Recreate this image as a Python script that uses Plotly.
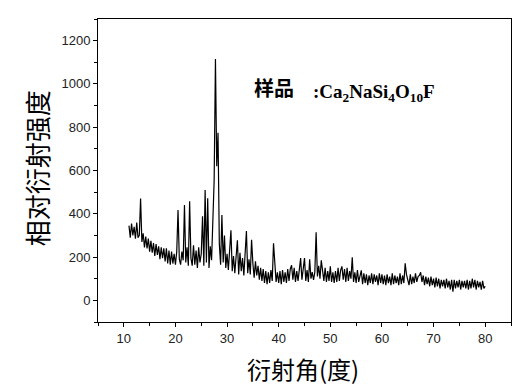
import numpy as np
import plotly.graph_objects as go

# 2-theta sampling grid (degrees), 0.25 deg step from 11 to 80
two_theta = np.arange(11.0, 80.0001, 0.25)

# Intensity, 4 samples per degree
intensity = [
    345, 290, 355, 300,   # 11
    340, 285, 360, 290,   # 12
    300, 470, 270, 310,   # 13
    245, 295, 240, 285,   # 14
    225, 275, 220, 265,   # 15
    205, 260, 210, 250,   # 16
    190, 245, 195, 240,   # 17
    180, 240, 170, 230,   # 18
    165, 225, 170, 215,   # 19
    165, 225, 417, 190,   # 20
    165, 225, 185, 440,   # 21
    175, 245, 160, 458,   # 22
    195, 160, 255, 165,   # 23
    230, 150, 245, 175,   # 24
    215, 389, 160, 510,   # 25
    175, 472, 150, 250,   # 26
    185, 403, 556, 1115,  # 27
    620, 774, 260, 165,   # 28
    394, 175, 300, 150,   # 29
    215, 140, 225, 324,   # 30
    135, 205, 125, 190,   # 31
    278, 120, 220, 135,   # 32
    195, 115, 205, 320,   # 33
    125, 190, 120, 280,   # 34
    170, 105, 180, 115,   # 35
    160, 95, 150, 90,     # 36
    145, 80, 135, 75,     # 37
    130, 80, 140, 90,     # 38
    264, 140, 85, 130,    # 39
    80, 135, 75, 140,     # 40
    85, 130, 80, 145,     # 41
    90, 145, 162, 95,     # 42
    150, 85, 135, 90,     # 43
    145, 195, 95, 140,    # 44
    195, 90, 140, 85,     # 45
    190, 100, 130, 95,    # 46
    130, 315, 110, 160,   # 47
    100, 185, 140, 90,    # 48
    150, 85, 135, 90,     # 49
    157, 85, 130, 80,     # 50
    135, 85, 150, 90,     # 51
    140, 157, 95, 145,    # 52
    85, 150, 90, 135,     # 53
    100, 199, 85, 130,    # 54
    80, 140, 85, 110,     # 55
    139, 75, 125, 80,     # 56
    120, 70, 115, 80,     # 57
    125, 75, 120, 85,     # 58
    115, 70, 125, 80,     # 59
    120, 75, 115, 70,     # 60
    120, 80, 110, 70,     # 61
    125, 75, 115, 80,     # 62
    110, 70, 125, 75,     # 63
    115, 80, 171, 120,    # 64
    85, 70, 120, 75,      # 65
    110, 80, 125, 85,     # 66
    110, 115, 130, 85,    # 67
    115, 70, 110, 75,     # 68
    105, 65, 110, 70,     # 69
    100, 60, 105, 65,     # 70
    100, 55, 95, 65,      # 71
    95, 55, 100, 60,      # 72
    90, 50, 95, 40,       # 73
    95, 55, 90, 60,       # 74
    95, 50, 90, 60,       # 75
    90, 55, 95, 50,       # 76
    90, 55, 100, 60,      # 77
    95, 50, 90, 60,       # 78
    85, 50, 90, 55,       # 79
    65,                   # 80
]

x_ticks = [10, 20, 30, 40, 50, 60, 70, 80]
y_ticks = [0, 200, 400, 600, 800, 1000, 1200]

x_title = "衍射角(度)"
y_title = "相对衍射强度"
sample_label = "样品"
formula_label = ":Ca<sub>2</sub>NaSi<sub>4</sub>O<sub>10</sub>F"

fig = go.Figure()
fig.add_trace(go.Scatter(
    x=two_theta, y=intensity, mode="lines",
    line=dict(color="black", width=1.2), showlegend=False,
))

tick_font = dict(family="Liberation Sans, Arial, sans-serif", size=13, color="#222")
axis_common = dict(
    showline=True, linecolor="black", linewidth=1, mirror=True,
    ticks="outside", ticklen=4, tickcolor="black", tickwidth=1,
    showgrid=False, zeroline=False, tickfont=tick_font,
)

fig.update_xaxes(range=[5, 85], tickmode="array", tickvals=x_ticks,
                 minor=dict(dtick=5, ticks="outside", ticklen=3, tickcolor="black"),
                 **axis_common)
fig.update_yaxes(range=[-100, 1300], tickmode="array", tickvals=y_ticks,
                 minor=dict(dtick=100, ticks="outside", ticklen=3, tickcolor="black"),
                 **axis_common)

cjk = "Noto Sans CJK SC, sans-serif"
annotations = [
    dict(text=y_title, x=-0.150, y=0.508, xref="paper", yref="paper",
         textangle=-90, showarrow=False, xanchor="center", yanchor="middle",
         font=dict(family=cjk, size=26, color="black")),
    dict(text=x_title, x=0.496, y=-0.155, xref="paper", yref="paper",
         showarrow=False, xanchor="center", yanchor="middle",
         font=dict(family=cjk, size=24, color="black")),
    dict(text="<b>" + sample_label + "</b>", x=0.373, y=0.775, xref="paper", yref="paper",
         showarrow=False, xanchor="left", yanchor="middle",
         font=dict(family=cjk, size=20, color="black")),
    dict(text="<b>" + formula_label + "</b>", x=0.515, y=0.755, xref="paper", yref="paper",
         showarrow=False, xanchor="left", yanchor="middle",
         font=dict(family="Liberation Serif, Times New Roman, serif", size=19, color="black")),
]

fig.update_layout(
    width=529, height=389,
    margin=dict(l=90, r=26, t=11, b=75),
    paper_bgcolor="white", plot_bgcolor="white",
    annotations=annotations,
    shapes=[dict(type="line", xref="paper", yref="paper",
                 x0=-0.25, x1=1.1, y0=-0.244, y1=-0.244,
                 line=dict(color="black", width=2))],
)

fig.write_html("out.html")
